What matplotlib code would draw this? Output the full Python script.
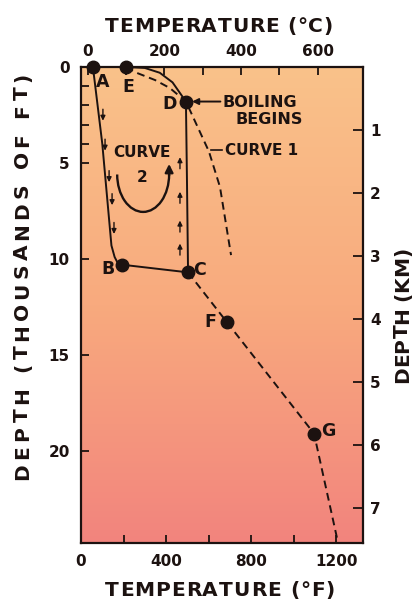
import numpy as np
import matplotlib
matplotlib.use('Agg')
import matplotlib.pyplot as plt
from matplotlib.colors import LinearSegmentedColormap
from matplotlib.patches import Arc
from matplotlib.font_manager import FontProperties, findfont, get_font

# ---------------- data (temperature in °F, depth in thousands of ft) -------------
point_names = ['A', 'E', 'D', 'B', 'C', 'F', 'G']
point_temp_f = [56, 212, 493, 193, 503, 686, 1095]
point_depth = [0, 0, 1.8, 10.3, 10.7, 13.3, 19.1]
# label offsets (points) relative to each point
label_dx = [7, 1.5, -12, -10, 8.5, -12, 10]
label_dy = [-11, -14.5, -2, -3, 1.5, 0, 2]

curve2_temp_f = [56, 100, 143, 158, 172, 193, 503, 498, 493]
curve2_depth = [0, 4.0, 9.3, 9.9, 10.2, 10.3, 10.7, 6.0, 1.8]

boil_temp_f = [212, 300, 370, 430, 493]
boil_depth = [0, 0.05, 0.3, 0.8, 1.8]

curve1_temp_f = [212, 263, 348, 418, 493, 601, 653, 691, 705]
curve1_depth = [0, 0.31, 0.68, 1.1, 1.8, 4.4, 6.25, 8.85, 9.8]

deep_temp_f = [503, 686, 1095, 1208]
deep_depth = [10.7, 13.3, 19.1, 24.8]

down_arrow_temp = [103, 113, 132, 146, 155]
down_arrow_depth = [2.5, 4.06, 5.7, 6.9, 8.4]
up_arrow_temp = [465, 465, 465, 465]
up_arrow_depth = [5.0, 6.8, 8.3, 9.5]

bottom_ticks_f = [0, 400, 800, 1200]
bottom_minor_f = [200, 600, 1000]
top_ticks_c = [0, 200, 400, 600]
top_minor_c = [100, 300, 500]
left_ticks = [0, 5, 10, 15, 20]
left_minor = [1, 2, 3, 4]
right_ticks_km = [1, 2, 3, 4, 5, 6, 7]

W, H = 414, 601
ink = '#1c1210'

fig = plt.figure(figsize=(W / 100, H / 100), dpi=100)
fig.patch.set_facecolor('white')
ax = fig.add_axes([81 / W, 1 - 543 / H, 282 / W, 476 / H])

# background gradient
cmap = LinearSegmentedColormap.from_list('bg', ['#FAC28A', '#F8AA7E', '#F2847D'])
grad = np.linspace(0, 1, 256).reshape(-1, 1)
ax.imshow(grad, cmap=cmap, extent=[0, 1, 0, 1], transform=ax.transAxes,
          aspect='auto', origin='upper', zorder=0, interpolation='bilinear')

lw = 1.4
ax.plot(curve2_temp_f, curve2_depth, color=ink, lw=lw, zorder=3)
ax.plot(boil_temp_f, boil_depth, color=ink, lw=lw, zorder=3)
ax.plot(curve1_temp_f, curve1_depth, color=ink, lw=lw, ls=(0, (4, 2.5)), zorder=3)
ax.plot(deep_temp_f, deep_depth, color=ink, lw=lw, ls=(0, (4, 2.5)), zorder=3)
ax.plot(point_temp_f, point_depth, 'o', color=ink, ms=9, zorder=5, clip_on=False)

fs_lbl = 12.5
for n, x, y, dx, dy in zip(point_names, point_temp_f, point_depth, label_dx, label_dy):
    ax.annotate(n, (x, y), xytext=(dx, dy), textcoords='offset points',
                ha='center', va='center', fontsize=fs_lbl, fontweight='bold', color=ink)

for x, y in zip(down_arrow_temp, down_arrow_depth):
    ax.annotate('', xy=(x, y + 0.3), xytext=(x, y - 0.3),
                arrowprops=dict(arrowstyle='-|>', lw=1.0, color=ink, mutation_scale=7,
                                shrinkA=0, shrinkB=0))
for x, y in zip(up_arrow_temp, up_arrow_depth):
    ax.annotate('', xy=(x, y - 0.3), xytext=(x, y + 0.3),
                arrowprops=dict(arrowstyle='-|>', lw=1.0, color=ink, mutation_scale=7,
                                shrinkA=0, shrinkB=0))

# circulation arrow of curve 2 (half ellipse + arrow head)
ax.add_patch(Arc((292, 5.6), 244, 3.9, theta1=0, theta2=180, lw=1.7, color=ink, zorder=3))
ax.annotate('', xy=(414, 5.05), xytext=(414, 5.65),
            arrowprops=dict(arrowstyle='-|>', lw=1.7, color=ink, mutation_scale=12,
                            shrinkA=0, shrinkB=0))
ax.text(287, 4.48, 'CURVE', ha='center', va='center', fontsize=11, fontweight='bold', color=ink)
ax.text(287, 5.75, '2', ha='center', va='center', fontsize=11, fontweight='bold', color=ink)

# boiling begins
ax.annotate('', xy=(522, 1.8), xytext=(655, 1.8),
            arrowprops=dict(arrowstyle='-|>', lw=1.4, color=ink, mutation_scale=9,
                            shrinkA=0, shrinkB=0))
ax.text(667, 1.85, 'BOILING', ha='left', va='center', fontsize=11.5, fontweight='bold', color=ink)
ax.text(724, 2.75, 'BEGINS', ha='left', va='center', fontsize=11.5, fontweight='bold', color=ink)
# curve 1 label
ax.plot([612, 662], [4.35, 4.35], color=ink, lw=1.2, zorder=3)
ax.text(677, 4.35, 'CURVE 1', ha='left', va='center', fontsize=11, fontweight='bold', color=ink)

ax.set_xlim(0, 1325)
ax.set_ylim(24.8, 0)

for s in ax.spines.values():
    s.set_color(ink)
    s.set_linewidth(1.6)

tick_kw = dict(direction='in', color=ink, width=1.3, labelsize=11, labelcolor=ink)
ax.set_xticks(bottom_ticks_f)
ax.set_xticks(bottom_minor_f, minor=True)
ax.set_yticks(left_ticks)
ax.set_yticks(left_minor, minor=True)
ax.tick_params(axis='x', which='both', length=6, pad=8, **tick_kw)
ax.tick_params(axis='y', which='both', length=6, pad=8, **tick_kw)
for t in ax.get_xticklabels() + ax.get_yticklabels():
    t.set_fontweight('bold')

f2c = (lambda f: (np.asarray(f) - 32) * 5 / 9, lambda c: np.asarray(c) * 9 / 5 + 32)
secx = ax.secondary_xaxis('top', functions=f2c)
secx.set_xticks(top_ticks_c)
secx.set_xticks(top_minor_c, minor=True)
secx.tick_params(axis='x', which='both', length=6, pad=6, **tick_kw)
secx.spines['top'].set_visible(False)
for t in secx.get_xticklabels():
    t.set_fontweight('bold')

ft2km = (lambda d: np.asarray(d) * 0.3048, lambda k: np.asarray(k) / 0.3048)
secy = ax.secondary_yaxis('right', functions=ft2km)
secy.set_yticks(right_ticks_km)
secy.tick_params(axis='y', which='both', length=7.5, pad=5, **tick_kw)
secy.spines['right'].set_visible(False)
for t in secy.get_yticklabels():
    t.set_fontweight('bold')

# tracked axis titles
def tracked(s, start_px, base_px, length_px, fs, vertical=False):
    prop = FontProperties(family='DejaVu Sans', weight='bold', size=fs)
    font = get_font(findfont(prop))
    font.set_size(fs, 100)
    advs = [font.load_char(ord(c)).linearHoriAdvance / 65536 for c in s]
    extra = (length_px - sum(advs)) / (len(s) - 1)
    pos = 0.0
    for c, a in zip(s, advs):
        if vertical:
            fig.text(base_px / W, 1 - (start_px - pos) / H, c, rotation=90,
                     rotation_mode='anchor', ha='left', va='baseline',
                     fontproperties=prop, color=ink)
        else:
            fig.text((start_px + pos) / W, 1 - base_px / H, c, ha='left',
                     va='baseline', fontproperties=prop, color=ink)
        pos += a + extra

tracked('TEMPERATURE (°C)', 105, 32, 228, 14.5)
tracked('TEMPERATURE (°F)', 105, 596, 230, 14.5)
tracked('DEPTH (THOUSANDS OF FT)', 480, 28, 407, 14.5, vertical=True)
tracked('DEPTH (KM)', 383, 408, 136, 14.5, vertical=True)

fig.savefig('out.png', dpi=100)
